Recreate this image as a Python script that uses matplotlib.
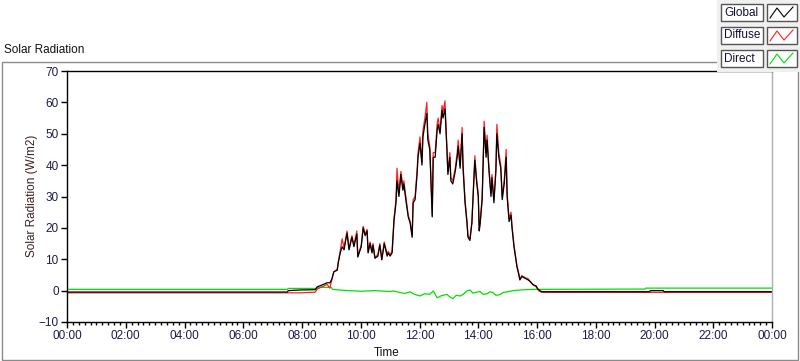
import matplotlib
matplotlib.use('Agg')
import matplotlib.pyplot as plt
from matplotlib.ticker import MultipleLocator, FuncFormatter
from matplotlib.patches import Rectangle
from matplotlib.lines import Line2D

plt.rcParams['font.family'] = ['Liberation Sans', 'DejaVu Sans']

# time in minutes after midnight, values in W/m2
t_min = [0, 450, 452, 476, 507, 511, 521, 531, 537, 541, 545, 552, 554, 558, 562, 566, 568,
         572, 576, 582, 586, 592, 594, 601, 605, 609, 613, 615, 619, 623, 625, 629, 635, 639,
         643, 648, 654, 656, 660, 664, 666, 668, 672, 674, 678, 682, 686, 688, 692, 697, 701,
         705, 707, 711, 715, 717, 721, 725, 727, 731, 735, 737, 741, 746, 748, 752, 756, 758,
         762, 766, 768, 772, 776, 778, 782, 784, 788, 793, 797, 799, 803, 807, 809, 813, 817,
         819, 823, 827, 829, 833, 837, 840, 842, 844, 848, 850, 852, 856, 858, 862, 866, 868,
         872, 876, 878, 882, 886, 889, 893, 897, 899, 903, 907, 909, 913, 917, 919, 923, 925,
         929, 936, 942, 946, 952, 958, 962, 966, 970, 1190, 1192, 1218, 1220, 1440]

global_rad = [-0.45, -0.45, 0.0, 0.2, 0.3, 1.2, 1.8, 2.5, 2.5, 3.7, 6.0, 6.5, 8.8, 12, 14, 13, 15,
              18.3, 13, 17, 14, 18, 10.7, 14, 20, 17.5, 19, 12, 15, 12, 14.5, 10.3, 11, 14.5,
              9.8, 15, 11, 12, 11, 12, 17, 22.5, 28, 35, 30, 37, 32, 34, 29, 23.5, 21.5,
              17, 28, 29, 37, 42.5, 47, 40, 49, 53, 56.5, 48, 45, 23.5, 42.5, 42.5, 51, 53,
              50, 57.5, 55, 58, 45, 37, 42.5, 35, 34, 38, 42.5, 46, 39, 50, 39, 28, 21.5,
              17, 16, 21.5, 28, 41.5, 34, 30, 19, 21.5, 29, 40, 52, 42.5, 48, 38, 30, 36,
              28, 38, 50, 42.5, 39, 29, 34, 42.5, 30, 22, 24, 20, 14, 9.7, 7.6, 5, 3.4,
              4.5, 3.9, 3.4, 2.9, 1.9, 1.5, 0.5, 0, -0.35, -0.35, 0.0, 0.0, -0.35, -0.35]

diffuse_rad = [-0.7, -0.7, -0.7, -0.7, -0.5, 0.5, 1.2, 2.0, 0.8, 3.5, 6.0, 6.8, 9.0, 12.5, 16.5, 13.5, 15.5,
               19, 13.5, 17.5, 14.5, 19, 11, 14.5, 20.5, 18, 19.5, 12.5, 15.5, 12.5, 15, 10.5, 11.5, 15,
               10, 15.5, 11.5, 12.5, 11.5, 12.5, 17.5, 23, 29, 39, 31, 38, 33, 35, 30, 24, 22,
               17.5, 29, 30, 38, 44, 49, 41, 51, 55, 60, 50, 46, 24, 44, 44, 53, 55,
               51, 59, 57, 60.5, 46, 38, 44, 36, 35, 39, 44, 48, 40, 52, 40, 29, 22,
               17.5, 16.5, 22, 29, 43, 35, 31, 19.5, 22, 30, 41, 54, 44, 49.5, 39, 31, 37,
               29, 39, 53, 44, 40, 30, 35, 45, 31, 23, 25, 20.5, 14.5, 10, 8, 5.3, 3.6,
               4.8, 4.1, 3.8, 2.9, 1.8, 1.3, 0.2, -0.3, -0.55, -0.55, -0.55, -0.55, -0.55, -0.55]

t_dir = [0, 450, 452, 510, 512, 540, 543, 564, 600, 630, 660, 666, 680, 690, 701, 710, 721, 730,
         741, 748, 756, 765, 776, 782, 788, 795, 803, 809, 817, 823, 829, 836, 844, 850, 858,
         864, 870, 876, 884, 892, 899, 911, 925, 952, 1180, 1182, 1440]
direct_rad = [0.4, 0.4, 0.7, 0.7, 1.1, 1.0, 0.4, 0.1, -0.2, 0.0, -0.3, -0.1, -0.6, -0.9, -0.4, -1.2,
              -1.7, -1.0, -1.2, -0.1, -2.3, -1.6, -1.2, -2.0, -2.6, -1.5, -1.7, -1.2, -0.1, 0.2,
              -0.8, -0.5, -0.3, -1.2, -1.0, -0.4, -0.6, -1.5, -1.3, -0.5, -0.4, 0.0, 0.2, 0.4,
              0.5, 0.8, 0.8]

series_names = ['Global', 'Diffuse', 'Direct']
series_colors = ['#000000', '#ff2020', '#00e000']
text_col = '#1c1c48'

W, H = 800, 361
fig = plt.figure(figsize=(8, 3.61), dpi=100)
fig.patch.set_facecolor('white')

# outer frame of the chart
fig.add_artist(Rectangle((1.5 / W, 1 - 359.5 / H), 796 / W, 298 / H, transform=fig.transFigure,
                         fill=False, edgecolor='#8a8a8a', lw=1))
fig.text(4 / W, 1 - 50 / H, 'Solar Radiation', fontsize=8.5, color='#111111', va='center')

ax = fig.add_axes([67 / W, 1 - 322 / H, 705 / W, 251 / H])
ax.plot(t_dir, direct_rad, color=series_colors[2], lw=0.9)
ax.plot(t_min, diffuse_rad, color=series_colors[1], lw=0.9)
ax.plot(t_min, global_rad, color=series_colors[0], lw=0.9)

ax.set_xlim(0, 1440)
ax.set_ylim(-10, 70)
ax.xaxis.set_major_locator(MultipleLocator(120))
ax.xaxis.set_minor_locator(MultipleLocator(12))
ax.xaxis.set_major_formatter(FuncFormatter(lambda v, p: '%02d:%02d' % ((int(v) // 60) % 24, int(v) % 60)))
ax.yaxis.set_major_locator(MultipleLocator(10))
ax.tick_params(axis='both', which='major', direction='out', length=4, width=1, colors='black',
               labelsize=8.5, labelcolor=text_col, pad=2)
ax.tick_params(axis='x', which='minor', direction='out', length=2.5, width=1, colors='black')
for s in ['left', 'bottom', 'top']:
    ax.spines[s].set_color('black')
    ax.spines[s].set_linewidth(1)
ax.spines['right'].set_color('#b0b0b0')
ax.spines['right'].set_linewidth(1)

fig.text(32 / W, 1 - 196 / H, 'Solar Radiation (W/m2)', rotation=90, fontsize=8.5,
         color='#3a2020', ha='center', va='center')
fig.text(374 / W, 1 - 353 / H, 'Time', fontsize=8.5, color='#1a1010', ha='left', va='center')

# legend panel at the top right
fig.add_artist(Rectangle((717 / W, 1 - 72 / H), 83 / W, 72 / H, transform=fig.transFigure,
                         facecolor='#f0f0f0', edgecolor='none'))
for i, (name, col) in enumerate(zip(series_names, series_colors)):
    top = 4 + i * 23
    fig.add_artist(Rectangle((721 / W, 1 - (top + 17) / H), 42 / W, 17 / H, transform=fig.transFigure,
                             facecolor='white', edgecolor='#555555', lw=1))
    fig.add_artist(Rectangle((767 / W, 1 - (top + 17) / H), 30 / W, 17 / H, transform=fig.transFigure,
                             facecolor='white', edgecolor='#555555', lw=1))
    fig.text(724 / W, 1 - (top + 8.5) / H, name, fontsize=8.5, color='#111133', va='center')
    xs = [770, 777, 784, 793]
    ys = [top + 14, top + 4, top + 13, top + 3]
    fig.add_artist(Line2D([x / W for x in xs], [1 - y / H for y in ys], transform=fig.transFigure,
                          color=col, lw=0.8))

fig.savefig('out.png', dpi=100)
